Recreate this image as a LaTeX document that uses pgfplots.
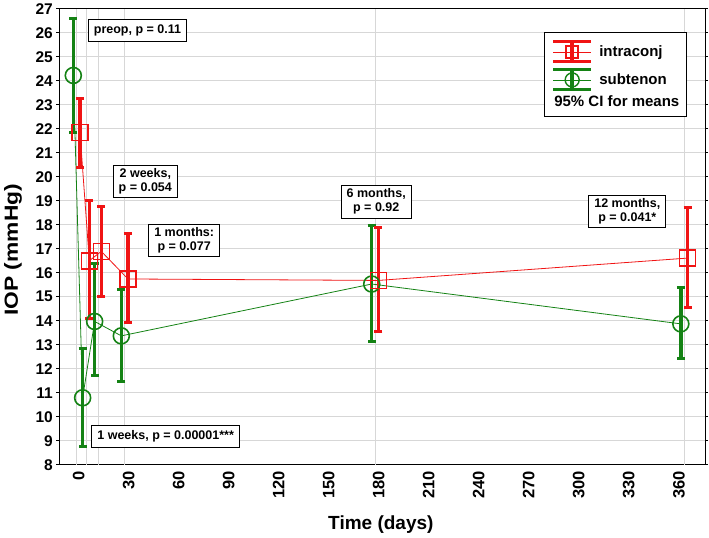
\documentclass[border=0pt]{standalone}
\usepackage{pgfplots}
\pgfplotsset{compat=1.18}
\usepackage{fontspec}
\setmainfont{Liberation Sans}
\usepackage{graphicx}
\definecolor{cred}{RGB}{240,20,20}
\definecolor{cgreen}{RGB}{20,130,20}
\definecolor{cgrid}{RGB}{215,215,215}
\begin{document}
\begin{tikzpicture}
\begin{axis}[
  scale only axis, width=645.7pt, height=456pt,
  xmin=-10.4, xmax=376.9, ymin=8, ymax=27,
  clip=false,
  axis line style={black, line width=0.8pt},
  xtick={0,30,...,360},
  ytick={8,...,27},
  /pgf/number format/assume math mode=true,
  ticklabel style={font=\fontsize{15.5}{15.5}\selectfont\bfseries},
  xticklabel style={rotate=90, anchor=east, font=\fontsize{16.5}{16.5}\selectfont\bfseries, yshift=-2pt},
  xtick style={draw=none},
  ytick style={black, line width=0.8pt},
  tick align=outside, major tick length=3pt,
  ymajorgrids, major grid style={cgrid, line width=0.8pt},
  extra x ticks={0,5.6,12.8,28.8,179,364.4},
  extra x tick labels={},
  extra x tick style={grid=major, tick style={draw=none}},
  xlabel={Time (days)},
  ylabel={\scalebox{1.2}[1]{IOP (mmHg)}},
  xlabel style={at={(axis description cs:0.498,-0.1316)}, anchor=center, font=\fontsize{19}{19}\selectfont\bfseries},
  ylabel style={at={(axis description cs:-0.0717,0.4715)}, anchor=center, font=\fontsize{19}{19}\selectfont\bfseries},
  legend style={at={(0.9717,0.950)}, anchor=north east, draw=black, line width=0.8pt, fill=white,
    font=\fontsize{15}{15}\selectfont\bfseries, inner xsep=7pt, inner ysep=8pt,
    row sep=4pt, nodes={inner sep=0pt},
    /tikz/every odd column/.append style={column sep=6.6pt}},
  legend cell align=left,
]
% subtenon (green)
\addplot[forget plot, cgreen, line width=0.8pt, mark=o, mark size=8pt,
  mark options={line width=1.6pt, solid, fill=none},
  error bars/.cd, y dir=both, y explicit,
  error bar style={line width=3.5pt, cgreen},
  error mark options={rotate=90, mark size=4pt, line width=3pt, cgreen}]
coordinates {
  (-2,24.22) += (0,2.38) -= (0,2.37)
  (3.6,10.79) += (0,2.04) -= (0,2.03)
  (10.8,13.97) += (0,2.40) -= (0,2.26)
  (26.8,13.37) += (0,1.95) -= (0,1.89)
  (177,15.53) += (0,2.44) -= (0,2.39)
  (362.4,13.87) += (0,1.53) -= (0,1.44)
};
% intraconj (red)
\addplot[forget plot, cred, line width=0.8pt, mark=square, mark size=8pt,
  mark options={line width=1.6pt, solid, fill=none},
  error bars/.cd, y dir=both, y explicit,
  error bar style={line width=3.5pt, cred},
  error mark options={rotate=90, mark size=4pt, line width=3pt, cred}]
coordinates {
  (2,21.85) += (0,1.43) -= (0,1.45)
  (7.6,16.5) += (0,2.5) -= (0,2.39)
  (14.8,16.89) += (0,1.87) -= (0,1.9)
  (30.8,15.74) += (0,1.89) -= (0,1.81)
  (181,15.68) += (0,2.21) -= (0,2.13)
  (366.4,16.61) += (0,2.11) -= (0,2.04)
};
\addlegendimage{legend image code/.code={
  \draw[cred, line width=3pt] (0pt,-10pt) -- (38pt,-10pt);
  \draw[cred, line width=3pt] (0pt,10pt) -- (38pt,10pt);
  \draw[cred, line width=4pt] (19pt,-10pt) -- (19pt,10pt);
  \draw[cred, line width=0.8pt] (0pt,0pt) -- (38pt,0pt);
  \draw[cred, line width=1.4pt] (13pt,-6pt) rectangle (25pt,6pt);
}}
\addlegendentry{intraconj}
\addlegendimage{legend image code/.code={
  \draw[cgreen, line width=3pt] (0pt,-10pt) -- (38pt,-10pt);
  \draw[cgreen, line width=3pt] (0pt,10pt) -- (38pt,10pt);
  \draw[cgreen, line width=4pt] (19pt,-10pt) -- (19pt,10pt);
  \draw[cgreen, line width=0.8pt] (0pt,0pt) -- (38pt,0pt);
  \draw[cgreen, line width=1.4pt] (19pt,0pt) circle (7pt);
}}
\addlegendentry{subtenon}
\addlegendimage{empty legend}
\addlegendentry{\hspace*{-45pt}95\% CI for means}

\tikzset{ann/.style={draw=black, line width=0.9pt, fill=white, align=center,
  font=\fontsize{12.5}{14}\selectfont\bfseries, inner xsep=5.5pt, inner ysep=3.5pt}}
\node[ann, minimum height=22pt] at (axis cs:36.5,26.08) {preop, p = 0.11};
\node[ann] at (axis cs:41.2,19.81) {2 weeks,\\ p = 0.054};
\node[ann] at (axis cs:64.5,17.35) {1 months:\\ p = 0.077};
\node[ann, minimum height=22pt] at (axis cs:53.4,9.19) {1 weeks, p = 0.00001***};
\node[ann] at (axis cs:179.7,18.96) {6 months,\\ p = 0.92};
\node[ann] at (axis cs:330.3,18.55) {12 months,\\ p = 0.041*};
\end{axis}
\path ([xshift=-59.3pt,yshift=-73pt]current axis.south west) rectangle ([xshift=4pt,yshift=4pt]current axis.north east);
\end{tikzpicture}
\end{document}
